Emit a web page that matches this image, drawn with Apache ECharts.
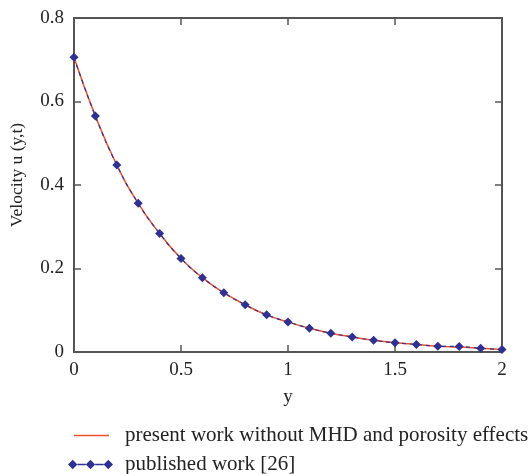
<!DOCTYPE html>
<html>
<head>
<meta charset="utf-8">
<script src="https://cdn.jsdelivr.net/npm/echarts@6/dist/echarts.min.js"></script>
<style>
  html, body { margin: 0; padding: 0; background: #fff; }
  #chart { width: 532px; height: 474px; }
</style>
</head>
<body>
<div id="chart"></div>
<script>
// position along the channel
const yPos = [0, 0.1, 0.2, 0.3, 0.4, 0.5, 0.6, 0.7, 0.8, 0.9, 1.0,
              1.1, 1.2, 1.3, 1.4, 1.5, 1.6, 1.7, 1.8, 1.9, 2.0]
// velocity, present work (line) and published work [26] (diamonds)
const presentWork = [0.706, 0.565, 0.448, 0.356, 0.284, 0.224, 0.178, 0.142, 0.113, 0.089, 0.072,
                     0.057, 0.045, 0.036, 0.028, 0.022, 0.018, 0.014, 0.012, 0.009, 0.006]
const publishedWork = [0.706, 0.565, 0.448, 0.356, 0.284, 0.224, 0.178, 0.142, 0.113, 0.089, 0.072,
                       0.057, 0.045, 0.036, 0.028, 0.022, 0.018, 0.014, 0.013, 0.009, 0.006]
const xTicks = [0, 0.5, 1, 1.5, 2]
const yTicks = [0, 0.2, 0.4, 0.6, 0.8]

const font = 'Liberation Serif'
const axisCol = '#555'
const red = '#f0502a'
const blue = '#2e3192'

const zip = (xs, vs) => xs.map((x, i) => [x, vs[i]])

// three diamonds joined by dashes, for the legend
const diamondsIcon = 'path://M0,5L5,0L10,5L5,10Z M10,4.3L19,4.3L19,5.7L10,5.7Z M19,5L24,0L29,5L24,10Z M29,4.3L38,4.3L38,5.7L29,5.7Z M38,5L43,0L48,5L43,10Z'

const chart = echarts.init(document.getElementById('chart'))
chart.setOption({
  animation: false,
  textStyle: { fontFamily: font },
  grid: { left: 74, right: 30, top: 18, bottom: 122 },
  legend: [
    {
      data: [{ name: 'present work without MHD and porosity effects', icon: 'path://M0,0L34,0L34,1.5L0,1.5Z' }],
      left: 74, top: 425, padding: 0, itemWidth: 35, itemHeight: 2,
      textStyle: { fontFamily: font, fontSize: 21, color: '#222', padding: [0, 0, 0, 11] }
    },
    {
      data: [{ name: 'published work [26]', icon: diamondsIcon, itemStyle: { color: blue } }],
      left: 68, top: 454, padding: 0, itemWidth: 45, itemHeight: 10,
      textStyle: { fontFamily: font, fontSize: 21, color: '#222', padding: [0, 0, 0, 7] }
    }
  ],
  xAxis: [
    {
      type: 'value', min: xTicks[0], max: xTicks[xTicks.length - 1], interval: 0.5,
      name: 'y', nameLocation: 'middle', nameGap: 36,
      nameTextStyle: { fontFamily: font, fontSize: 19, color: '#222' },
      axisLine: { onZero: false, lineStyle: { color: axisCol, width: 2 } },
      axisTick: { inside: true, length: 7, lineStyle: { color: axisCol, width: 1.5 } },
      axisLabel: { fontFamily: font, fontSize: 19, color: '#222', margin: 9 },
      splitLine: { show: false }
    },
    {
      type: 'value', position: 'top', min: xTicks[0], max: xTicks[xTicks.length - 1], interval: 0.5,
      axisLine: { onZero: false, lineStyle: { color: axisCol, width: 2 } },
      axisTick: { inside: true, length: 7, lineStyle: { color: axisCol, width: 1.5 } },
      axisLabel: { show: false },
      splitLine: { show: false }
    }
  ],
  yAxis: [
    {
      type: 'value', min: yTicks[0], max: yTicks[yTicks.length - 1], interval: 0.2,
      name: 'Velocity u (y,t)', nameLocation: 'middle', nameGap: 48,
      nameTextStyle: { fontFamily: font, fontSize: 17.5, color: '#222', padding: [0, 0, 0, 20] },
      axisLine: { show: true, onZero: false, lineStyle: { color: axisCol, width: 2 } },
      axisTick: { show: true, inside: true, length: 7, lineStyle: { color: axisCol, width: 1.5 } },
      axisLabel: { fontFamily: font, fontSize: 19, color: '#222', margin: 10 },
      splitLine: { show: false }
    },
    {
      type: 'value', position: 'right', min: yTicks[0], max: yTicks[yTicks.length - 1], interval: 0.2,
      axisLine: { show: true, onZero: false, lineStyle: { color: axisCol, width: 2 } },
      axisTick: { show: true, inside: true, length: 7, lineStyle: { color: axisCol, width: 1.5 } },
      axisLabel: { show: false },
      splitLine: { show: false }
    }
  ],
  series: [
    {
      name: 'present work without MHD and porosity effects',
      type: 'line', smooth: true, showSymbol: false, symbol: 'none',
      data: zip(yPos, presentWork),
      lineStyle: { color: red, width: 1.5 },
      itemStyle: { color: red },
      z: 2
    },
    {
      name: 'published work [26]',
      type: 'line', smooth: true, symbol: 'diamond', symbolSize: 9,
      data: zip(yPos, publishedWork),
      lineStyle: { color: blue, width: 1.2, type: [4, 4] },
      itemStyle: { color: blue },
      z: 3
    }
  ]
})
</script>
</body>
</html>
